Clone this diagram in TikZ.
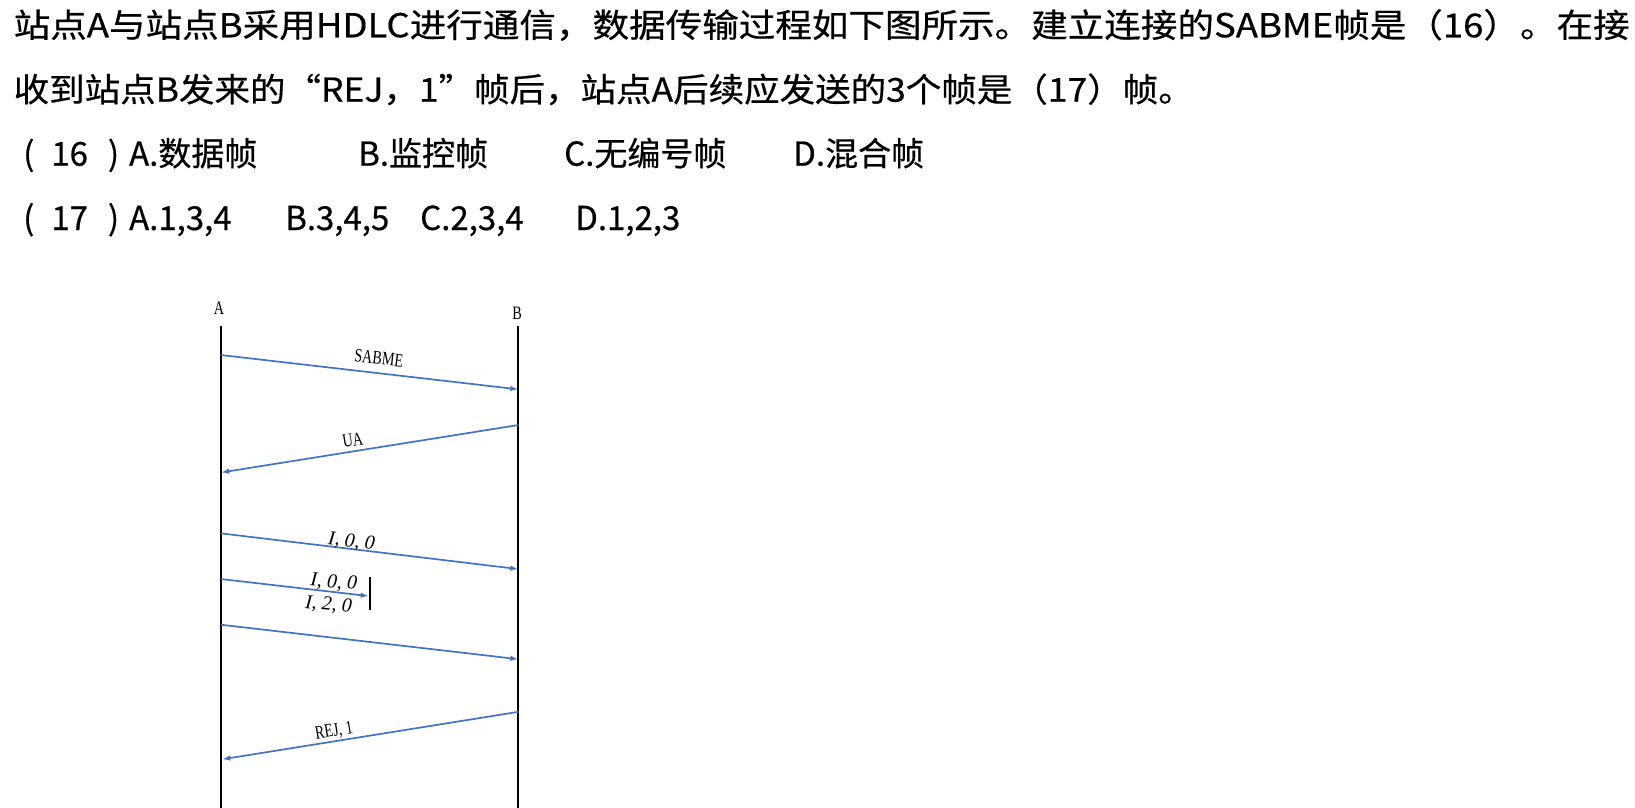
\documentclass[tikz,border=0pt]{standalone}
\usepackage{fontspec}
\setmainfont{Noto Sans CJK SC}[FakeBold=0.5]
\newfontfamily\lblfont[FakeStretch=0.75]{Liberation Serif}
\newfontfamily\itfont{Liberation Serif}
\usetikzlibrary{arrows.meta}
\definecolor{arrblue}{HTML}{4472C4}
\begin{document}
\begin{tikzpicture}[x=1pt,y=-1pt,
  qtext/.style={anchor=base west,inner sep=0pt,font=\fontsize{33}{40}\selectfont},
  life/.style={line width=2.2pt,black},
  msg/.style={arrblue,line width=1.7pt,-{Latex[length=8pt,width=5.5pt]}},
  lbl/.style={inner sep=1pt,font=\lblfont\fontsize{19}{19}\selectfont},
  ilbl/.style={inner sep=1pt,font=\itfont\itshape\fontsize{20}{20}\selectfont}]
\useasboundingbox (0,0) rectangle (1635,808);
\fill[white] (0,0) rectangle (1635,808);
% question text (real pixel coordinates)
\node[qtext] (q1) at (13.5,37.3) {\resizebox{1616pt}{\height}{站点A与站点B采用HDLC进行通信，数据传输过程如下图所示。建立连接的SABME帧是（16）。在接}};
\node[qtext] (q2) at (13.5,101.7) {\resizebox{1180pt}{\height}{收到站点B发来的“REJ，1”帧后，站点A后续应发送的3个帧是（17）帧。}};
\node[qtext] (o16a) at (23,165.7) {(\hspace{17pt}16\hspace{20pt})\hspace{10pt}A.数据帧};
\node[qtext] (o16b) at (358,165.7) {B.监控帧};
\node[qtext] (o16c) at (564,165.7) {C.无编号帧};
\node[qtext] (o16d) at (793,165.7) {D.混合帧};
\node[qtext] (o17a) at (23,230) {(\hspace{17pt}17\hspace{20pt})\hspace{10pt}A.1,3,4};
\node[qtext] (o17b) at (285,230) {B.3,4,5};
\node[qtext] (o17c) at (420,230) {C.2,3,4};
\node[qtext] (o17d) at (575,230) {D.1,2,3};
% diagram (coordinates measured at 1568-px scale)
\begin{scope}[scale=1.0428]
\node[lbl] (labA) at (210,296) {A};
\node[lbl] (labB) at (496,300) {B};
\coordinate (Atop) at (212,313); \coordinate (Abot) at (212,780);
\coordinate (Btop) at (497,313); \coordinate (Bbot) at (497,780);
\draw[life] (Atop) -- (Abot);
\draw[life] (Btop) -- (Bbot);
% messages
\coordinate (m1s) at (212,340.4); \coordinate (m1e) at (497,373.3);
\draw[msg] (m1s) -- (m1e);
\node[lbl,rotate=-6.6] (l1) at (363.4,343.6) {SABME};
\coordinate (m2s) at (497,407.5); \coordinate (m2e) at (212,453);
\draw[msg] (m2s) -- (m2e);
\node[lbl,rotate=9.2] (l2) at (338.2,422) {UA};
\coordinate (m3s) at (212,511.4); \coordinate (m3e) at (497,545.6);
\draw[msg] (m3s) -- (m3e);
\node[ilbl,rotate=-6.6] (l3) at (337,519.5) {I, 0, 0};
\coordinate (m4s) at (212,555.2); \coordinate (m4e) at (353.5,571.5);
\draw[msg] (m4s) -- (m4e);
\node[ilbl,rotate=-5] (l4) at (320,558.8) {I, 0, 0};
\node[ilbl,rotate=-5] (l5) at (315,580.2) {I, 2, 0};
\coordinate (bart) at (355,553); \coordinate (barb) at (355,585);
\draw[line width=1.8pt,black] (bart) -- (barb);
\coordinate (m5s) at (212,599); \coordinate (m5e) at (497,632);
\draw[msg] (m5s) -- (m5e);
\coordinate (m6s) at (497,682.5); \coordinate (m6e) at (213,728);
\draw[msg] (m6s) -- (m6e);
\node[lbl,rotate=9.2] (l6) at (320.3,701.6) {REJ, 1};
\end{scope}
\end{tikzpicture}
\end{document}
